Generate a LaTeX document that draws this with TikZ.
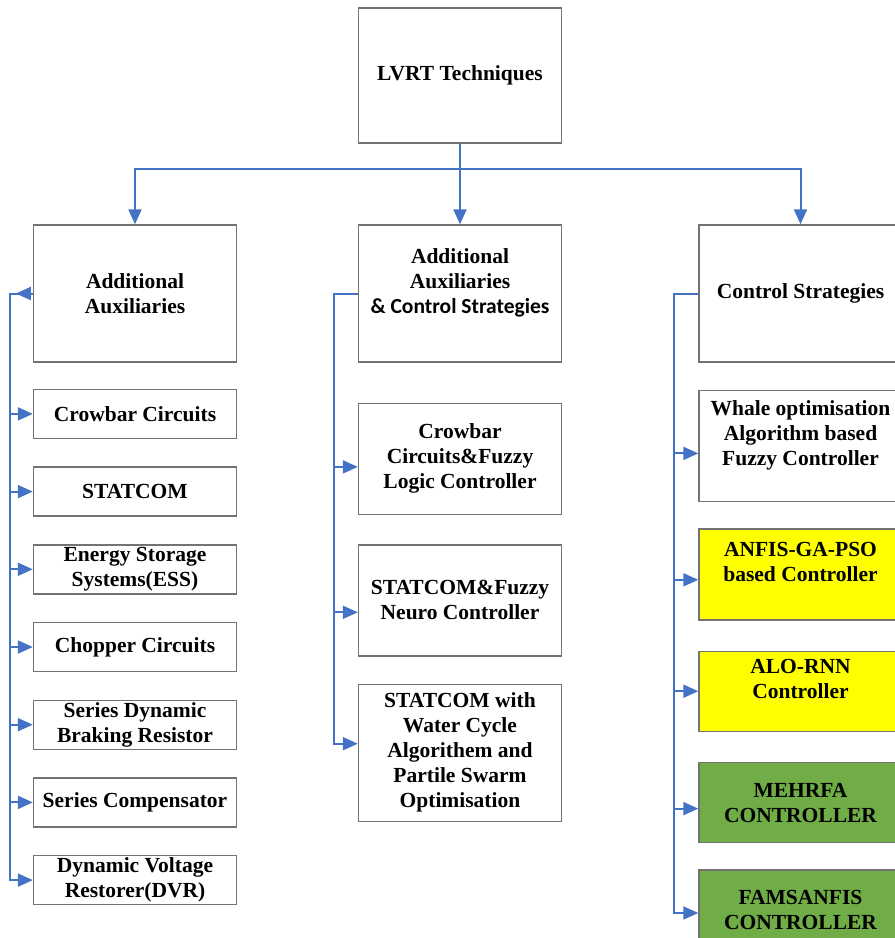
\documentclass[tikz,border=0pt]{standalone}
\usepackage{fontspec}
\setmainfont{Liberation Serif}
\newfontfamily\calfont{Carlito}
\usetikzlibrary{arrows.meta, positioning}
\usepackage{xcolor}
\definecolor{lvblue}{HTML}{4472C4}
\definecolor{lvyellow}{HTML}{FFFF00}
\definecolor{lvgreen}{HTML}{70AD47}

\begin{document}
\begin{tikzpicture}[
  x=0.5pt, y=-0.5pt,
  font=\fontsize{10.75}{12.5}\selectfont\bfseries,
  lvbox/.style={draw=black!55, line width=0.7pt, fill=white, align=center,
                inner sep=1pt, minimum width=101.5pt},
  lvtall/.style={lvbox, minimum height=68.5pt},
  lvitem/.style={lvbox, minimum height=24.5pt},
  lvmid/.style={lvbox, minimum height=55.5pt},
  lvyel/.style={lvbox, fill=lvyellow, minimum height=40pt},
  lvgrn/.style={lvbox, fill=lvgreen, minimum height=40pt},
  lvline/.style={draw=lvblue, line width=1pt},
  lvarr/.style={lvline, -{Triangle[length=7.5pt, width=6.5pt]}}
]
\clip (0,0) rectangle (895,938);

% ---------------------------------------------- the root and its three branches
\node[lvbox, minimum height=67.5pt] (lvrt) at (460,75.5) {LVRT Techniques};
\node[lvtall] (aux) at (135,293.5) {Additional\\Auxiliaries};
\node[lvtall] (auxctl) at (460,293.5)
  {Additional\\Auxiliaries\\{\calfont\& Control Strategies}\\[0pt]\mbox{}};
\node[lvtall] (ctl) at (800.5,293.5) {Control Strategies};

\draw[lvline] (lvrt.south) -- ++(0,-12.5pt) coordinate (bar);
\draw[lvarr] (bar) -| (aux.north);
\draw[lvarr] (bar) -- (auxctl.north);
\draw[lvarr] (bar) -| (ctl.north);

% ---------------------------------------------- additional auxiliaries
\node[lvitem, below=13pt of aux] (crow) {Crowbar Circuits};
\node[lvitem, below=13.65pt of crow] (stat) {STATCOM};
\node[lvitem, below=13.65pt of stat] (ess) {Energy Storage\\Systems(ESS)};
\node[lvitem, below=13.65pt of ess] (chop) {Chopper Circuits};
\node[lvitem, below=13.65pt of chop] (sdbr) {Series Dynamic\\Braking Resistor};
\node[lvitem, below=13.65pt of sdbr] (scomp) {Series Compensator};
\node[lvitem, below=13.65pt of scomp] (dvr) {Dynamic Voltage\\Restorer(DVR)};

\coordinate (ltrunk) at ([xshift=-11.5pt]aux.west);
\draw[lvarr] (aux.west) -- ([xshift=-8.5pt]aux.west);
\draw[lvarr] (aux.west) -- (ltrunk) |- (dvr.west);
\foreach \n in {crow,stat,ess,chop,sdbr,scomp}
  \draw[lvarr] (ltrunk |- \n.west) -- (\n.west);

% ---------------------------------------------- auxiliaries & control strategies
\node[lvmid, below=20pt of auxctl] (crowfz)
  {Crowbar\\Circuits\&Fuzzy\\Logic Controller};
\node[lvmid, below=14.5pt of crowfz] (statfz)
  {STATCOM\&Fuzzy\\Neuro Controller};
\node[lvtall, below=13.5pt of statfz] (wcpso)
  {STATCOM with\\Water Cycle\\Algorithem and\\Partile Swarm\\Optimisation};

\coordinate (mtrunk) at ([xshift=-12pt]auxctl.west);
\coordinate (cfin) at ([yshift=-4pt]crowfz.west);
\coordinate (sfin) at ([yshift=-6pt]statfz.west);
\coordinate (win) at ([yshift=4.5pt]wcpso.west);
\draw[lvarr] (auxctl.west) -- (mtrunk) |- (win);
\draw[lvarr] (mtrunk |- cfin) -- (cfin);
\draw[lvarr] (mtrunk |- sfin) -- (sfin);

% ---------------------------------------------- control strategies
\node[lvmid, below=13.5pt of ctl] (whale)
  {Whale optimisation\\Algorithm based\\Fuzzy Controller\\[0pt]\mbox{}};
\node[lvyel, minimum height=45.5pt, below=13pt of whale] (anfis)
  {ANFIS-GA-PSO\\based Controller\\[0pt]\mbox{}};
\node[lvyel, below=15pt of anfis] (alo) {ALO-RNN\\Controller\\[0pt]\mbox{}};
\node[lvgrn, below=15pt of alo] (mehrfa) {MEHRFA\\CONTROLLER};
\node[lvgrn, below=13pt of mehrfa] (fams) {FAMSANFIS\\CONTROLLER};

\coordinate (rtrunk) at ([xshift=-12pt]ctl.west);
\coordinate (whin) at ([yshift=-3.75pt]whale.west);
\coordinate (anin) at ([yshift=-2.75pt]anfis.west);
\coordinate (mein) at ([yshift=-3pt]mehrfa.west);
\coordinate (fain) at ([yshift=-1.5pt]fams.west);
\draw[lvarr] (ctl.west) -- (rtrunk) |- (fain);
\draw[lvarr] (rtrunk |- whin) -- (whin);
\draw[lvarr] (rtrunk |- anin) -- (anin);
\draw[lvarr] (rtrunk |- alo.west) -- (alo.west);
\draw[lvarr] (rtrunk |- mein) -- (mein);

\end{tikzpicture}
\end{document}
